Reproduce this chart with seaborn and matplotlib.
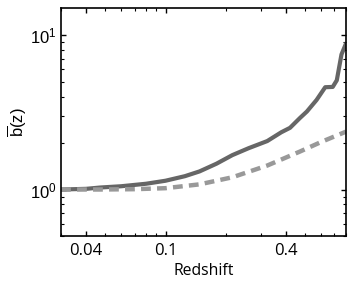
import matplotlib
matplotlib.use("Agg")
import matplotlib.pyplot as plt
import seaborn as sns
import numpy as np
import pandas as pd
from matplotlib.ticker import FixedLocator, FixedFormatter, LogLocator, NullFormatter

# Data
z_solid = [0.03, 0.04, 0.047, 0.06, 0.08, 0.1, 0.125, 0.148, 0.18, 0.216, 0.26, 0.323, 0.38, 0.42, 0.47, 0.51, 0.57, 0.63, 0.687, 0.72, 0.76, 0.8]
b_solid = [1.0, 1.01, 1.03, 1.05, 1.09, 1.14, 1.22, 1.31, 1.47, 1.67, 1.85, 2.06, 2.35, 2.51, 2.9, 3.2, 3.8, 4.6, 4.62, 5.1, 7.5, 8.8]
z_dash = [0.03, 0.047, 0.07, 0.1, 0.148, 0.216, 0.323, 0.47, 0.6, 0.8]
b_dash = [1.0, 1.0, 1.005, 1.02, 1.08, 1.2, 1.43, 1.76, 2.03, 2.37]

xticks = [0.04, 0.1, 0.4]
xticklabels = ["0.04", "0.1", "0.4"]

sns.set_style("ticks")
plt.rcParams['mathtext.fontset'] = 'custom'
plt.rcParams['mathtext.rm'] = 'Liberation Sans'
plt.rcParams['mathtext.it'] = 'Liberation Sans:italic'
plt.rcParams['font.family'] = ['Liberation Sans', 'DejaVu Sans']
plt.rcParams['text.color'] = 'black'
plt.rcParams['axes.labelcolor'] = 'black'
plt.rcParams['xtick.color'] = 'black'
plt.rcParams['ytick.color'] = 'black'

fig = plt.figure(figsize=(3.57, 2.85), dpi=100)
ax = fig.add_axes([0.171, 0.172, 0.798, 0.8])

df_s = pd.DataFrame({"z": z_solid, "b": b_solid})
df_d = pd.DataFrame({"z": z_dash, "b": b_dash})
sns.lineplot(data=df_s, x="z", y="b", ax=ax, color="#666666", lw=3.0, sort=False)
sns.lineplot(data=df_d, x="z", y="b", ax=ax, color="#999999", lw=3.2, dashes=False, sort=False,
             linestyle=(0, (2.2, 1.4)))

ax.set_xscale("log")
ax.set_yscale("log")
ax.set_xlim(0.03, 0.8)
ax.set_ylim(0.5, 15)

ax.xaxis.set_major_locator(FixedLocator(xticks))
ax.xaxis.set_major_formatter(FixedFormatter(xticklabels))
ax.xaxis.set_minor_locator(LogLocator(base=10, subs=np.arange(2, 10)))
ax.xaxis.set_minor_formatter(NullFormatter())
ax.yaxis.set_major_locator(LogLocator(base=10))
ax.yaxis.set_minor_locator(LogLocator(base=10, subs=np.arange(2, 10)))
ax.yaxis.set_minor_formatter(NullFormatter())

ax.tick_params(which="both", direction="in", top=True, right=True, color="black")
ax.tick_params(which="major", length=3.5, width=1)
ax.tick_params(which="minor", length=2, width=0.8)
ax.tick_params(axis="y", labelsize=12, pad=3, labelcolor="black")
ax.tick_params(axis="x", labelsize=12, pad=5, labelcolor="black")
for lab in ax.get_xticklabels():
    lab.set_fontfamily("Open Sans")

for s in ax.spines.values():
    s.set_linewidth(1.2)
    s.set_color("black")

ax.set_xlabel("Redshift", fontsize=11.3, family="Open Sans", labelpad=3, color="black")
ax.set_ylabel(r"$\overline{\mathrm{b}}\mathrm{(z)}$", fontsize=12, labelpad=1, color="black")

fig.savefig("out.png", dpi=100)
